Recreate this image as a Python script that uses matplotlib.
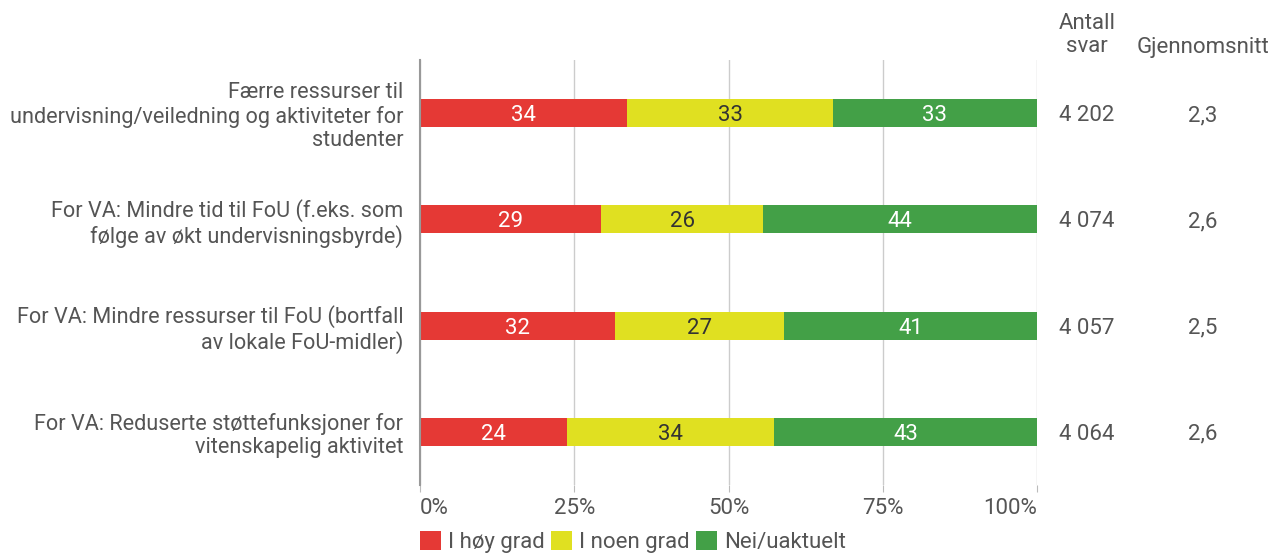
import matplotlib
matplotlib.use("Agg")
import matplotlib.pyplot as plt
import matplotlib.transforms as mtransforms
from matplotlib.patches import Patch

plt.rcParams['font.family'] = ['Roboto', 'DejaVu Sans']

categories = [
    "Færre ressurser til\nundervisning/veiledning og aktiviteter for\nstudenter",
    "For VA: Mindre tid til FoU (f.eks. som\nfølge av økt undervisningsbyrde)",
    "For VA: Mindre ressurser til FoU (bortfall\nav lokale FoU-midler)",
    "For VA: Reduserte støttefunksjoner for\nvitenskapelig aktivitet",
]
series_names = ["I høy grad", "I noen grad", "Nei/uaktuelt"]
hoy = [33.6, 29.4, 31.6, 23.8]
noen = [33.3, 26.2, 27.4, 33.6]
nei = [33.1, 44.4, 41.0, 42.6]
antall = ["4 202", "4 074", "4 057", "4 064"]
snitt = ["2,3", "2,6", "2,5", "2,6"]
xticks = [0, 25, 50, 75, 100]
xticklabels = ["0%", "25%", "50%", "75%", "100%"]

colors = ["#E53935", "#E0E021", "#43A047"]
label_colors = ["white", "#333333", "white"]
text_color = "#555555"
fs = 16
fs_cat = 15.6

fig = plt.figure(figsize=(12.71, 5.53), dpi=100)
ax = fig.add_axes([420/1271, 1-485/553, 617/1271, 425/553])

ypos = list(range(len(categories)))
left = [0]*len(categories)
for vals, col, lc, name in zip([hoy, noen, nei], colors, label_colors, series_names):
    ax.barh(ypos, vals, left=left, height=0.265, color=col, label=name, zorder=3)
    for y, v, l in zip(ypos, vals, left):
        ax.text(l + v/2, y, f"{round(v):.0f}", ha='center', va='center_baseline',
                color=lc, fontsize=fs, zorder=4)
    left = [a + b for a, b in zip(left, vals)]

ax.set_xlim(0, 100)
ax.set_ylim(3.5, -0.5)
ax.set_yticks(ypos)
ax.set_yticklabels(categories, fontsize=fs_cat, color=text_color, linespacing=1.15)
ax.tick_params(axis='y', length=0, pad=12)
ax.set_xticks(xticks)
ax.set_xticklabels(xticklabels, fontsize=fs, color=text_color)
tl = ax.get_xticklabels()
tl[0].set_ha('left')
tl[-1].set_ha('right')
ax.tick_params(axis='x', length=5, color="#BBBBBB", pad=4)
ax.grid(axis='x', color="#CCCCCC", linewidth=1, zorder=0)
for s in ['top', 'right', 'bottom']:
    ax.spines[s].set_visible(False)
ax.spines['left'].set_color("#999999")
ax.spines['left'].set_linewidth(1.5)
ax.spines['left'].set_zorder(5)

trans = mtransforms.blended_transform_factory(fig.transFigure, ax.transData)
for y, a, s in zip(ypos, antall, snitt):
    ax.text(1087/1271, y, a, transform=trans, ha='center', va='center_baseline', fontsize=fs, color=text_color)
    ax.text(1203/1271, y, s, transform=trans, ha='center', va='center_baseline', fontsize=fs, color=text_color)
fig.text(1087/1271, 1-35/553, "Antall\nsvar", ha='center', va='center', fontsize=fs,
         color=text_color, linespacing=1.15)
fig.text(1203/1271, 1-48/553, "Gjennomsnitt", ha='center', va='center', fontsize=fs, color=text_color)

handles = [Patch(facecolor=c, edgecolor='none') for c in colors]
fig.legend(handles, series_names, loc='center left', bbox_to_anchor=(420/1271, 1-542/553),
           ncol=3, frameon=False, fontsize=fs, handlelength=0.95, handleheight=0.95,
           handletextpad=0.3, columnspacing=0.3, labelcolor=text_color, borderaxespad=0,
           borderpad=0)

fig.savefig("out.png", dpi=100)
